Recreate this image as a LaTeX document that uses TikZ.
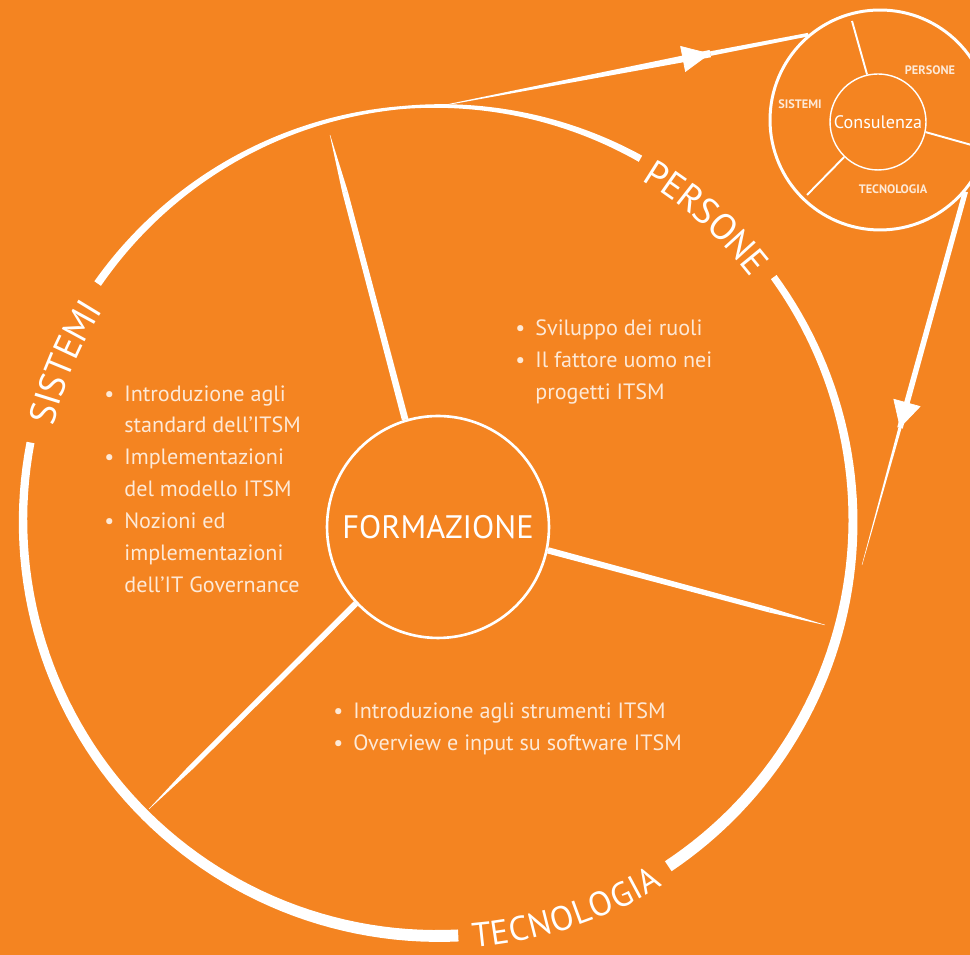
\documentclass[tikz,border=0pt]{standalone}
\usepackage{fontspec}
\setmainfont{PT Sans}
\usetikzlibrary{positioning,calc,arrows.meta,decorations.text,decorations.markings}

\definecolor{brandorange}{RGB}{244,132,33}
\colorlet{softwhite}{white!82!brandorange}

\newcommand{\itm}{\makebox[0.4cm][l]{\textbullet}}
\newcommand{\cont}{\hspace*{0.4cm}}
% white stroke that narrows from A to B (half widths #3 and #4)
\newcommand{\taper}[4]{\fill[white] ($(#1)!#3!90:(#2)$) -- ($(#2)!#4!-90:(#1)$) -- ($(#2)!#4!90:(#1)$) -- ($(#1)!#3!-90:(#2)$) -- cycle;}
% piece of the big ring, from angle #1 to #2, width #3 to #4 (px)
\newcommand{\ringarc}[4]{\fill[white]
  plot[domain=#1:#2,samples=60] ({438+(415+(#3+(#4-#3)*(\x-(#1))/((#2)-(#1)))/2)*cos(\x)},{434+(415+(#3+(#4-#3)*(\x-(#1))/((#2)-(#1)))/2)*sin(\x)})
  -- plot[domain=#2:#1,samples=60] ({438+(415-(#3+(#4-#3)*(\x-(#1))/((#2)-(#1)))/2)*cos(\x)},{434+(415-(#3+(#4-#3)*(\x-(#1))/((#2)-(#1)))/2)*sin(\x)})
  -- cycle;}

\begin{document}
\begin{tikzpicture}[x=0.02cm,y=0.02cm]
  \tikzstyle{hub}=[circle,draw=white,text=white,inner sep=0pt]
  \tikzstyle{tag}=[text=softwhite,font=\bfseries\fontsize{7}{7}\selectfont]
  \tikzstyle{notes}=[text=softwhite,align=left,inner sep=0pt,anchor=north west,font=\fontsize{12.6}{18.2}\selectfont]
  \tikzstyle{arcword}=[decoration={text along path,text align=center,raise=-7.5pt,text color=white}]
  \tikzstyle{headtip}=[white,postaction={decorate}]

  \useasboundingbox (0,0) rectangle (970,955);
  \fill[brandorange] (0,0) rectangle (970,955);

  % big ring, in three pieces with gaps for the words
  \coordinate (centre) at (438,434);
  \ringarc{-56.3}{36}{12}{7}
  \ringarc{60.8}{95}{7}{3}
  \ringarc{95}{145.1}{3}{8}
  \ringarc{169.1}{272.8}{8}{12}

  \path[arcword,decoration={text={|\fontsize{21}{21}\selectfont|PERSONE}},decorate] ($(centre)+(70:410)$) arc[start angle=70,end angle=27,radius=410];
  \path[arcword,decoration={text={|\fontsize{21}{21}\selectfont|SISTEMI}},decorate] ($(centre)+(180:409)$) arc[start angle=180,end angle=134,radius=409];
  \path[arcword,decoration={text={|\fontsize{19.5}{19.5}\selectfont|TECNOLOGIA}},decorate] ($(centre)+(265.2:415)$) arc[start angle=265.2,end angle=311.2,radius=415];

  % centre
  \node[hub,line width=1.5pt,minimum size=4.44cm,font=\fontsize{18.5}{18.5}\selectfont] (formazione) at (438,428) {FORMAZIONE};
  \coordinate (fup) at (330,820);
  \coordinate (fright) at (825,330);
  \coordinate (fleft) at (149,146);
  \coordinate (fupm) at ($(formazione.107)!0.8!(fup)$);
  \coordinate (frightm) at ($(formazione.348)!0.8!(fright)$);
  \coordinate (fleftm) at ($(formazione.223)!0.8!(fleft)$);
  \taper{formazione.107}{fupm}{1.9pt}{1.6pt}
  \taper{fupm}{fup}{1.6pt}{0.1pt}
  \taper{formazione.348}{frightm}{1.8pt}{1.4pt}
  \taper{frightm}{fright}{1.4pt}{0.1pt}
  \taper{formazione.223}{fleftm}{1.7pt}{1.4pt}
  \taper{fleftm}{fleft}{1.4pt}{0.1pt}

  % small ring
  \node[circle,draw=white,line width=1.7pt,minimum size=4.4cm] (ring) at (880,835) {};
  \node[hub,line width=0.8pt,minimum size=1.92cm,font=\fontsize{10.3}{10.3}\selectfont] (consulenza) at (878,833) {Consulenza};
  \coordinate (cup) at (852,934);
  \coordinate (cleft) at (807,760);
  \coordinate (cright) at (975,809);
  \draw[white,line width=1.1pt] (consulenza.103) -- (cup);
  \draw[white,line width=1.1pt] (consulenza.226) -- (cleft);
  \draw[white,line width=1.1pt] (consulenza.348) -- (cright);
  \node[tag] (tpers) at (930,885) {PERSONE};
  \node[tag] (tsist) at (800,851) {SISTEMI};
  \node[tag] (ttecn) at (893,766) {TECNOLOGIA};

  % arrows between the rings
  \coordinate (a1s) at ($(centre)+(89:416)$);
  \coordinate (a1m) at ($(a1s)!0.73!(ring.130)$);
  \taper{a1s}{a1m}{0.2pt}{2.1pt}
  \taper{a1m}{ring.130}{1.3pt}{1pt}
  \path[headtip,decoration={markings,mark=at position 0.73 with {\arrow{Triangle[length=16pt,width=15pt]}}}] (a1s) -- (ring.130);
  \coordinate (a2e) at (862,390);
  \coordinate (a2m) at ($(ring.320)!0.633!(a2e)$);
  \taper{ring.320}{a2m}{1.5pt}{1.6pt}
  \taper{a2m}{a2e}{0.9pt}{0.1pt}
  \path[headtip,decoration={markings,mark=at position 0.633 with {\arrow{Triangle[length=15pt,width=16pt]}}}] (ring.320) -- (a2e);

  % notes
  \node[notes] (nsist) at (104,570) {\itm Introduzione agli\\\cont standard dell’ITSM\\\itm Implementazioni\\\cont del modello ITSM\\\itm Nozioni ed\\\cont implementazioni\\\cont dell’IT Governance};
  \node[notes] (npers) at (515,636) {\itm Sviluppo dei ruoli\\\itm Il fattore uomo nei\\\cont progetti ITSM};
  \node[notes] (ntecn) at (333,253) {\itm Introduzione agli strumenti ITSM\\\itm Overview e input su software ITSM};
\end{tikzpicture}
\end{document}
